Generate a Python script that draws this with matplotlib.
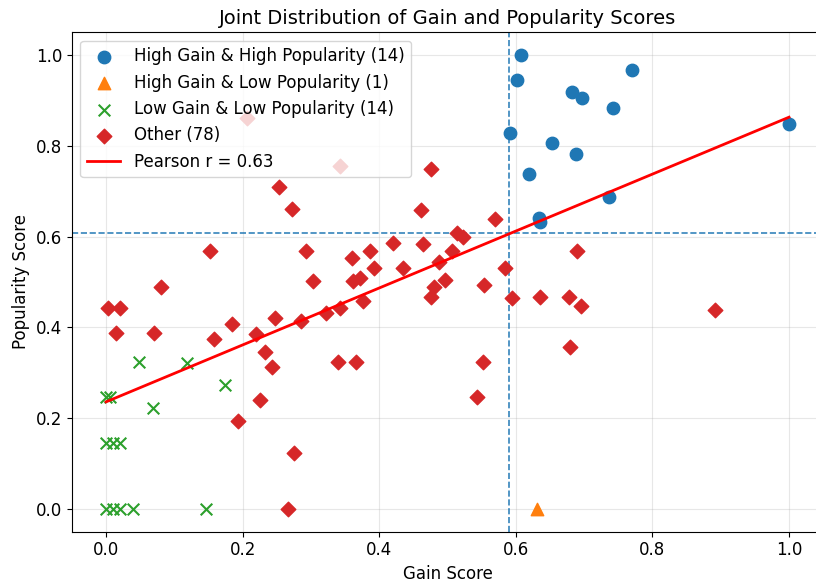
import numpy as np
import matplotlib
matplotlib.use("Agg")
import matplotlib.pyplot as plt

# High gain & high popularity
hh_gain = [0.608, 0.602, 0.591, 0.619, 0.634, 0.636, 0.653, 0.682, 0.697, 0.688, 0.742, 0.770, 0.736, 1.0]
hh_pop = [1.0, 0.945, 0.828, 0.738, 0.641, 0.632, 0.806, 0.918, 0.905, 0.782, 0.883, 0.967, 0.687, 0.848]

# High gain & low popularity
hl_gain = [0.631]
hl_pop = [0.0]

# Low gain & low popularity
ll_gain = [0.0, 0.005, 0.048, 0.119, 0.174, 0.069, 0.0, 0.01, 0.02, 0.0, 0.01, 0.02, 0.04, 0.146]
ll_pop = [0.247, 0.247, 0.324, 0.321, 0.273, 0.222, 0.145, 0.145, 0.145, 0.0, 0.0, 0.0, 0.0, 0.0]

# Other
ot_gain = [0.343, 0.476, 0.253, 0.272, 0.461, 0.570, 0.152, 0.293, 0.420, 0.464,
           0.514, 0.523, 0.506, 0.387, 0.360, 0.392, 0.435, 0.488, 0.303, 0.362,
           0.372, 0.496, 0.480, 0.476, 0.553, 0.376, 0.081, 0.003, 0.020, 0.015,
           0.070, 0.185, 0.247, 0.285, 0.322, 0.343, 0.158, 0.220, 0.233, 0.243,
           0.340, 0.366, 0.552, 0.543, 0.225, 0.193, 0.275, 0.266, 0.690, 0.584,
           0.595, 0.635, 0.678, 0.695, 0.892, 0.679, 0.206]
ot_pop = [0.756, 0.749, 0.709, 0.661, 0.659, 0.639, 0.568, 0.568, 0.586, 0.584,
          0.608, 0.599, 0.568, 0.568, 0.553, 0.531, 0.531, 0.544, 0.502, 0.502,
          0.509, 0.504, 0.489, 0.467, 0.493, 0.458, 0.489, 0.443, 0.443, 0.388,
          0.388, 0.407, 0.421, 0.414, 0.432, 0.443, 0.374, 0.385, 0.346, 0.313,
          0.324, 0.324, 0.324, 0.247, 0.240, 0.194, 0.123, 0.0, 0.568, 0.530,
          0.465, 0.467, 0.467, 0.447, 0.438, 0.357, 0.861]

group_counts = [14, 1, 14, 78]
gain_cut = 0.590
pop_cut = 0.607

# regression line
fit_x = [0.0, 1.0]
fit_y = [0.236, 0.863]
pearson_r = 0.63

fig = plt.figure(figsize=(8.16, 5.86), dpi=100)
ax = fig.add_axes([0.0882, 0.0927, 0.9206, 0.8522])

ax.scatter(hh_gain, hh_pop, marker="o", s=80, color="tab:blue",
           label=f"High Gain & High Popularity ({group_counts[0]})", zorder=3)
ax.scatter(hl_gain, hl_pop, marker="^", s=80, color="tab:orange",
           label=f"High Gain & Low Popularity ({group_counts[1]})", zorder=3)
ax.scatter(ll_gain, ll_pop, marker="x", s=70, color="tab:green",
           label=f"Low Gain & Low Popularity ({group_counts[2]})", zorder=3)
ax.scatter(ot_gain, ot_pop, marker="D", s=55, color="tab:red",
           label=f"Other ({group_counts[3]})", zorder=3)
ax.plot(fit_x, fit_y, color="red", lw=2, label=f"Pearson r = {pearson_r:.2f}", zorder=4)

ax.axvline(gain_cut, color="tab:blue", ls="--", lw=1.2, alpha=0.9)
ax.axhline(pop_cut, color="tab:blue", ls="--", lw=1.2, alpha=0.9)

ax.set_xlim(-0.05, 1.05)
ax.set_ylim(-0.05, 1.05)
ax.grid(True, alpha=0.3)
ax.tick_params(labelsize=12)
ax.set_xlabel("Gain Score", fontsize=12)
ax.set_ylabel("Popularity Score", fontsize=12)
ax.set_title("Joint Distribution of Gain and Popularity Scores", fontsize=14)
ax.legend(loc="upper left", fontsize=12)

fig.savefig("out.png", dpi=100)
